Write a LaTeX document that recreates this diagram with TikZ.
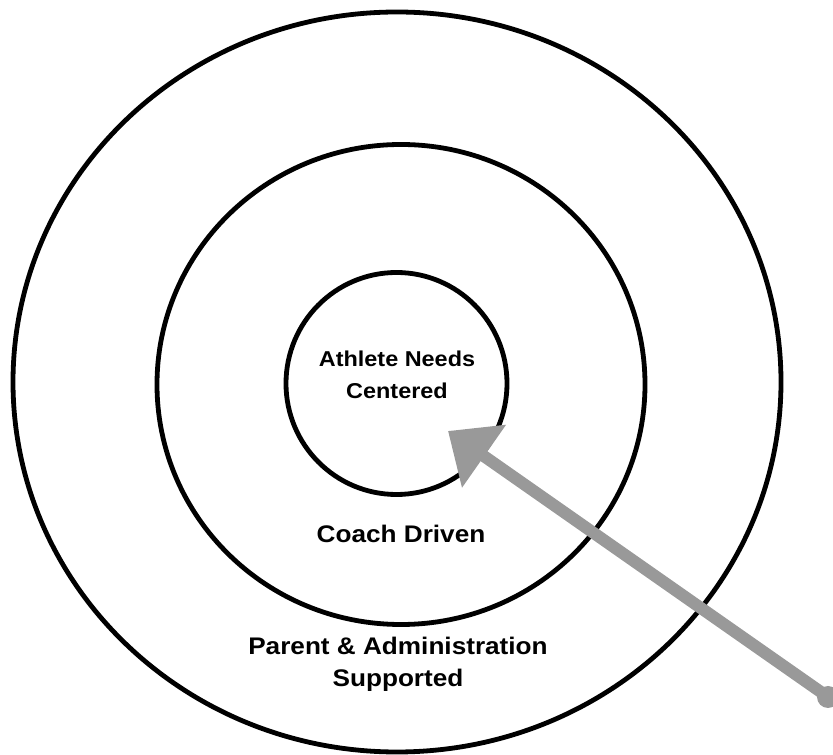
\documentclass[tikz,border=0pt]{standalone}
\usepackage{fontspec}
\newfontfamily\labfont[FakeStretch=1.09]{Liberation Sans}
\usetikzlibrary{shapes.geometric,arrows.meta}
\definecolor{arrowgray}{HTML}{999999}
\begin{document}
\begin{tikzpicture}[x=1pt,y=1pt,
  ring/.style={draw=black,line width=4.8pt,ellipse,inner sep=0pt,outer sep=0pt},
  lab/.style={align=center,inner sep=0pt,font=\labfont\bfseries\fontsize{24}{32}\selectfont},
  labsmall/.style={align=center,inner sep=0pt,font=\labfont\bfseries\fontsize{21.5}{32}\selectfont},
  pointer/.style={draw=arrowgray,line width=12pt,-{Triangle[length=44pt,width=74pt]}}]
\useasboundingbox (0,0) rectangle (833,755);
\node[ring,minimum width=768pt,minimum height=740pt] (outer) at (397,373) {};
\node[ring,minimum width=488pt,minimum height=480pt] (middle) at (401,370.5) {};
\node[ring,minimum width=221pt,minimum height=222pt] (inner) at (396.5,371.5) {};
\node[labsmall] (t1) at (397,380) {Athlete Needs\\Centered};
\node[lab] (t2) at (401,221) {Coach Driven};
\node[lab] (t3) at (398,91) {Parent \& Administration\\Supported};
\coordinate (tail) at (828,58);
\coordinate (tip) at (448,324);
\draw[pointer] (tail) -- (tip);
\fill[arrowgray] (tail) circle (11pt);
\end{tikzpicture}
\end{document}
